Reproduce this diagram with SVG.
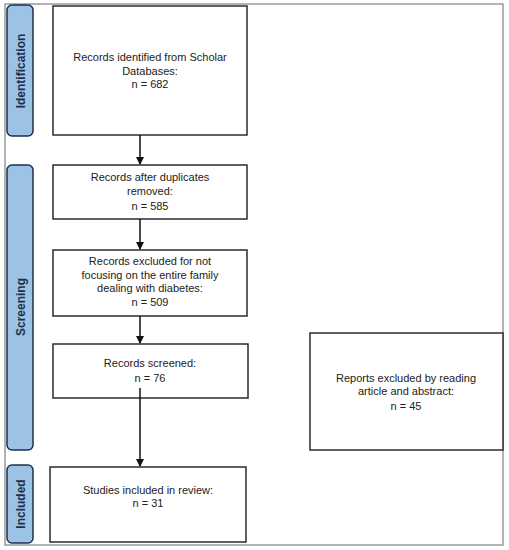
<svg xmlns="http://www.w3.org/2000/svg" width="509" height="550" viewBox="0 0 509 550">
<style>
.frame{fill:none;stroke:#9a9a9a;stroke-width:1.5}
.box{fill:#fff;stroke:#2b2b2b;stroke-width:1.5}
.phase{fill:#9cc3e5;stroke:#1f2f4a;stroke-width:1.5}
.t{font-family:"Liberation Sans",Arial,sans-serif;font-size:11px;fill:#222;text-anchor:middle}
.pt{font-family:"Liberation Sans",Arial,sans-serif;font-size:12px;font-weight:bold;fill:#1f2f4a;text-anchor:middle}
.c{stroke:#111;stroke-width:1.5;fill:none}
</style>
<defs>
<marker id="ah" markerWidth="8" markerHeight="8" refX="7" refY="4" orient="auto" markerUnits="userSpaceOnUse">
<path d="M0,0 L8,4 L0,8 z" fill="#111"/>
</marker>
</defs>
<rect width="509" height="550" fill="#fff"/>
<g id="frame">
<path class="frame" d="M5,4 H503 V545 H5 Z"/>
</g>
<g id="phase-identification">
<rect class="phase" x="7" y="5" width="26" height="131" rx="5"/>
<text class="pt" transform="translate(24.5,71) rotate(-90)">Identification</text>
</g>
<g id="phase-screening">
<rect class="phase" x="7" y="165" width="26" height="285" rx="5"/>
<text class="pt" transform="translate(24.5,307) rotate(-90)">Screening</text>
</g>
<g id="phase-included">
<rect class="phase" x="7" y="465" width="26" height="78" rx="5"/>
<text class="pt" transform="translate(24.5,504) rotate(-90)">Included</text>
</g>
<g id="n1">
<rect class="box" x="53" y="6" width="194" height="129"/>
<text class="t" x="150" y="61">Records identified from Scholar</text>
<text class="t" x="150" y="75">Databases:</text>
<text class="t" x="150" y="88">n = 682</text>
</g>
<g id="n2">
<rect class="box" x="53" y="165" width="194" height="54"/>
<text class="t" x="150" y="181">Records after duplicates</text>
<text class="t" x="150" y="195">removed:</text>
<text class="t" x="150" y="210">n = 585</text>
</g>
<g id="n3">
<rect class="box" x="53" y="250" width="194" height="66"/>
<text class="t" x="150" y="265">Records excluded for not</text>
<text class="t" x="150" y="279">focusing on the entire family</text>
<text class="t" x="150" y="292">dealing with diabetes:</text>
<text class="t" x="150" y="306">n = 509</text>
</g>
<g id="n4">
<rect class="box" x="53" y="344" width="195" height="54"/>
<text class="t" x="150" y="367">Records screened:</text>
<text class="t" x="150" y="382">n = 76</text>
</g>
<g id="n5">
<rect class="box" x="50" y="467" width="196" height="75"/>
<text class="t" x="148" y="494">Studies included in review:</text>
<text class="t" x="148" y="507">n = 31</text>
</g>
<g id="n6">
<rect class="box" x="310" y="333" width="193" height="117"/>
<text class="t" x="406" y="382">Reports excluded by reading</text>
<text class="t" x="406" y="395">article and abstract:</text>
<text class="t" x="406" y="410">n = 45</text>
</g>
<g id="connectors">
<line class="c" x1="140" y1="135" x2="140" y2="164" marker-end="url(#ah)"/>
<line class="c" x1="140" y1="219" x2="140" y2="249" marker-end="url(#ah)"/>
<line class="c" x1="140" y1="316" x2="140" y2="343" marker-end="url(#ah)"/>
<line class="c" x1="140" y1="388" x2="140" y2="466" marker-end="url(#ah)"/>
</g>
</svg>
